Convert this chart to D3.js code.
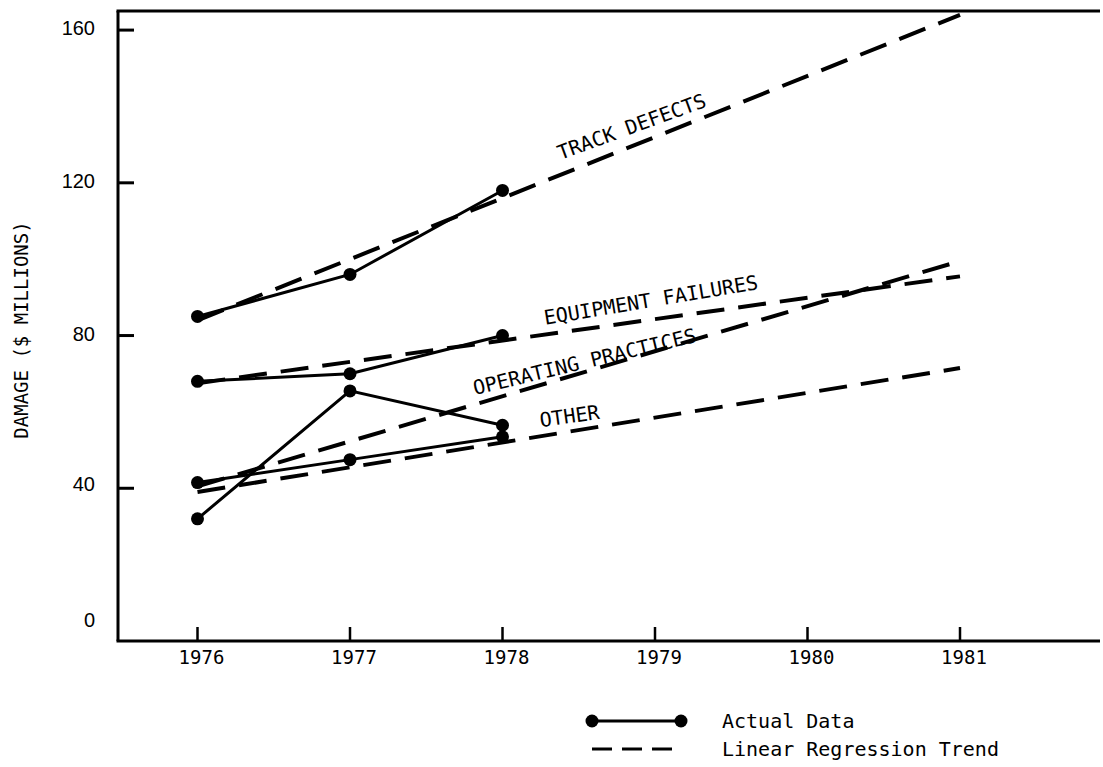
<!DOCTYPE html>
<html>
<head>
<meta charset="UTF-8">
<title>Damage trend</title>
<script src="https://cdn.jsdelivr.net/npm/d3@7"></script>
<style>
    body { margin: 0; background: #fff; }
    .tick-label { font-family: "Liberation Sans", Arial, sans-serif; font-size: 20px; fill: #000; }
    .mono { font-family: "DejaVu Sans Mono", monospace; fill: #000; }
    .actual { fill: none; stroke: #000; stroke-width: 3px; }
    .trend { fill: none; stroke: #000; stroke-width: 4px; stroke-dasharray: 28,14; }
</style>
</head>
<body>
<script>
    var years = [1976, 1977, 1978];
    var trackActual = [85, 96, 118];
    var equipActual = [68, 70, 80];
    var operActual = [32, 65.5, 56.5];
    var otherActual = [41.5, 47.5, 53.5];

    var trendYears = [1976, 1981];
    var trackTrend = [84, 164];
    var equipTrend = [67.5, 95.5];
    var operTrend = [40.5, 99.5];
    var otherTrend = [39, 71.5];

    var yTicks = [0, 40, 80, 120, 160];
    var xTicks = [1976, 1977, 1978, 1979, 1980, 1981];

    // series labels: anchor in data units + rotation
    var seriesLabels = [
        {text: "TRACK DEFECTS", year: 1978.38, value: 126, angle: -20},
        {text: "EQUIPMENT FAILURES", year: 1978.28, value: 82.8, angle: -9.5},
        {text: "OPERATING PRACTICES", year: 1977.82, value: 64.4, angle: -13.5},
        {text: "OTHER", year: 1978.25, value: 56, angle: -8}
    ];

    var width = 1103, height = 767;

    var x = d3.scaleLinear().domain([1976, 1981]).range([197.5, 960]);
    var y = d3.scaleLinear().domain([0, 165]).range([641, 11]);
    var x0 = 118, x1 = 1100;

    var svg = d3.select("body").append("svg")
        .attr("width", width)
        .attr("height", height);

    // frame: left axis, bottom axis, top line
    svg.append("line").attr("x1", x0).attr("x2", x0).attr("y1", y(165)).attr("y2", y(0))
        .attr("stroke", "#000").attr("stroke-width", 3);
    svg.append("line").attr("x1", x0 - 1.5).attr("x2", x1).attr("y1", y(0)).attr("y2", y(0))
        .attr("stroke", "#000").attr("stroke-width", 3);
    svg.append("line").attr("x1", x0 - 1.5).attr("x2", x1).attr("y1", y(165)).attr("y2", y(165))
        .attr("stroke", "#000").attr("stroke-width", 3);

    // y ticks (inward)
    svg.selectAll(".ytick").data(yTicks.filter(d => d > 0)).enter().append("line")
        .attr("x1", x0).attr("x2", x0 + 16)
        .attr("y1", d => y(d)).attr("y2", d => y(d))
        .attr("stroke", "#000").attr("stroke-width", 3);

    svg.selectAll(".ylab").data(yTicks).enter().append("text")
        .attr("class", "tick-label")
        .attr("x", 95)
        .attr("y", d => y(d) + (d === 0 ? -21 : d === 40 ? -4 : -2))
        .attr("dy", "0.35em")
        .attr("text-anchor", "end")
        .text(d => d);

    // x ticks (upward)
    svg.selectAll(".xtick").data(xTicks).enter().append("line")
        .attr("x1", d => x(d)).attr("x2", d => x(d))
        .attr("y1", y(0)).attr("y2", y(0) - 14)
        .attr("stroke", "#000").attr("stroke-width", 2.5);

    svg.selectAll(".xlab").data(xTicks).enter().append("text")
        .attr("class", "mono")
        .style("font-size", "19px")
        .attr("x", d => x(d) + 4)
        .attr("y", 664)
        .attr("text-anchor", "middle")
        .text(d => d);

    svg.append("text")
        .attr("class", "mono")
        .style("font-size", "19px")
        .attr("transform", "translate(28,330) rotate(-90)")
        .attr("text-anchor", "middle")
        .text("DAMAGE ($ MILLIONS)");

    var line = d3.line().x(d => x(d[0])).y(d => y(d[1]));

    var trends = [trackTrend, equipTrend, operTrend, otherTrend];
    trends.forEach(function(t) {
        svg.append("path")
            .datum(trendYears.map((yr, i) => [yr, t[i]]))
            .attr("class", "trend")
            .attr("d", line);
    });

    var actuals = [trackActual, equipActual, operActual, otherActual];
    actuals.forEach(function(a) {
        var pts = years.map((yr, i) => [yr, a[i]]);
        svg.append("path").datum(pts).attr("class", "actual").attr("d", line);
        svg.selectAll(null).data(pts).enter().append("circle")
            .attr("cx", d => x(d[0])).attr("cy", d => y(d[1]))
            .attr("r", 6.5).attr("fill", "#000");
    });

    seriesLabels.forEach(function(l) {
        svg.append("text")
            .attr("class", "mono")
            .style("font-size", "20px")
            .attr("transform", `translate(${x(l.year)},${y(l.value)}) rotate(${l.angle})`)
            .text(l.text);
    });

    // legend
    var lg = svg.append("g");
    lg.append("line").attr("x1", 592).attr("x2", 681).attr("y1", 721).attr("y2", 721)
        .attr("stroke", "#000").attr("stroke-width", 3);
    lg.selectAll("circle").data([592, 681]).enter().append("circle")
        .attr("cx", d => d).attr("cy", 721).attr("r", 6.5).attr("fill", "#000");
    lg.append("line").attr("x1", 592).attr("x2", 682).attr("y1", 749).attr("y2", 749)
        .attr("stroke", "#000").attr("stroke-width", 3).attr("stroke-dasharray", "20,10");
    lg.append("text").attr("class", "mono").style("font-size", "20px")
        .attr("x", 722).attr("y", 728).text("Actual Data");
    lg.append("text").attr("class", "mono").style("font-size", "20px")
        .attr("x", 722).attr("y", 756).text("Linear Regression Trend");
</script>
</body>
</html>
